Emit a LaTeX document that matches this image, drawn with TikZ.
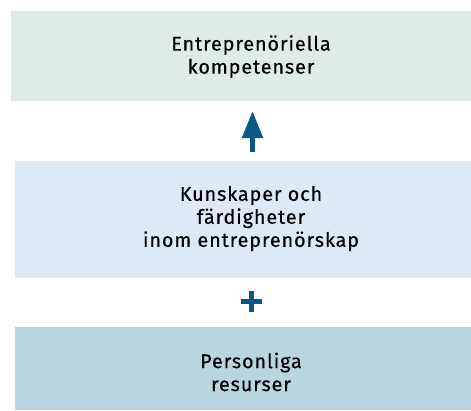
\documentclass[tikz,border=0pt]{standalone}
\usepackage{fontspec}
\setmainfont{Fira Sans}[LetterSpace=4.5, FakeBold=0.4]
\usetikzlibrary{arrows.meta}
\definecolor{boxtop}{HTML}{DEEBE8}
\definecolor{boxmid}{HTML}{DEE9F6}
\definecolor{boxbot}{HTML}{B8D6DE}
\definecolor{accent}{HTML}{0B5788}
\tikzset{
  panel/.style={inner sep=0pt, outer sep=0pt, draw=none},
  label/.style={align=center, inner sep=0pt, font=\fontsize{19.8}{23}\selectfont, text=black},
  connector/.style={accent, line width=5pt, line cap=butt, -{Triangle[width=20pt,length=27pt]}},
  plusbar/.style={accent, line width=4.5pt, line cap=butt}
}
\begin{document}
\begin{tikzpicture}[x=1pt,y=-1pt]
\useasboundingbox (0,0) rectangle (471,410);
% boxes
\fill[boxtop] (11,11) rectangle (471,100.7);
\node[panel, minimum width=460pt, minimum height=89.7pt] (top) at (241,55.85) {};
\fill[boxmid] (15,161) rectangle (471,277.7);
\node[panel, minimum width=456pt, minimum height=116.7pt] (mid) at (243,219.35) {};
\fill[boxbot] (15,326.7) rectangle (471,410);
\node[panel, minimum width=456pt, minimum height=83.3pt] (bot) at (243,368.35) {};
% texts
\node[label] (ttop) at (251,56.5) {Entreprenöriella\\kompetenser};
\node[label] (tmid) at (251,218.5) {Kunskaper och\\färdigheter\\inom entreprenörskap};
\node[label] (tbot) at (251,372) {Personliga\\resurser};
% arrow and plus
\coordinate (ashaft) at (252.5,151.7);
\coordinate (atip) at (252.5,111);
\draw[connector] (ashaft) -- (atip);
\coordinate (plus) at (251.5,301.7);
\draw[plusbar] ([xshift=-10.8pt]plus) -- ([xshift=10.8pt]plus);
\draw[plusbar] ([yshift=-10.5pt]plus) -- ([yshift=10.5pt]plus);
\end{tikzpicture}
\end{document}
